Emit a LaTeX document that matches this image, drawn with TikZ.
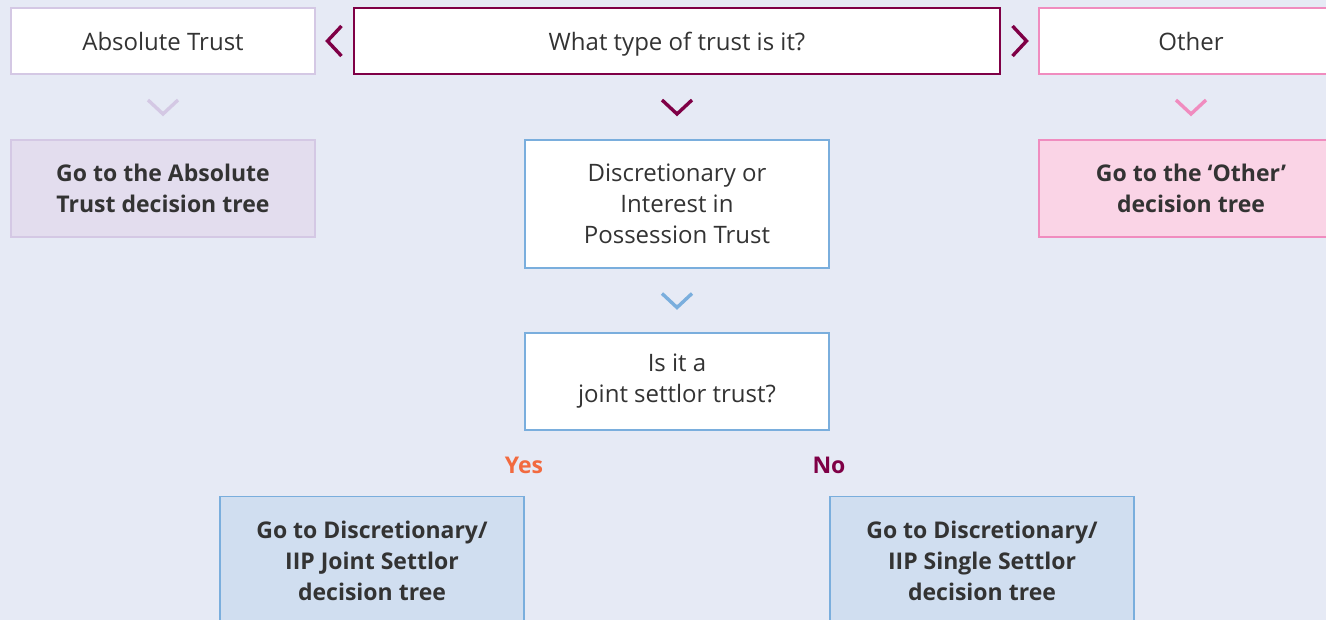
\documentclass[tikz,border=0pt]{standalone}
\usepackage{fontspec}
\setmainfont{Open Sans}
\usetikzlibrary{calc}
\definecolor{bg}{HTML}{E6EAF5}
\definecolor{txt}{HTML}{333333}
\definecolor{magenta}{HTML}{7F0046}
\definecolor{lilac}{HTML}{D4C8E4}
\definecolor{lilacfill}{HTML}{E3DDEE}
\definecolor{pinkline}{HTML}{F08CBF}
\definecolor{pinkfill}{HTML}{FAD4E6}
\definecolor{blueline}{HTML}{7AAEDD}
\definecolor{bluefill}{HTML}{D0DEF0}
\definecolor{yescol}{HTML}{F26A3F}
\tikzset{
  box/.style={draw, line width=1.2pt, fill=white, minimum width=304pt, align=center, text=txt, font=\fontsize{24}{31}\selectfont, inner sep=0pt},
  gobox/.style={box, font=\fontsize{23}{31}\selectfont\bfseries},
  gotext/.style={text=txt, font=\fontsize{23}{31}\selectfont\bfseries, align=center, anchor=north},
  chev/.style={line width=3.4pt, line cap=butt, line join=miter},
  lbl/.style={font=\fontsize{23}{25}\selectfont\bfseries},
  oneline/.style={text height=20pt, text depth=0pt}
}
\begin{document}
\begin{tikzpicture}[x=1pt,y=-1pt]
\fill[bg] (0,0) rectangle (1326,620);
\useasboundingbox (0,0) rectangle (1326,620);
\begin{scope}
\clip (0,0) rectangle (1326,620);
% top row
\node[box, oneline, draw=lilac, minimum height=66pt] (abs) at (163,41) {Absolute Trust};
\node[box, oneline, draw=magenta, minimum width=646pt, minimum height=66pt] (q) at (677,41) {What type of trust is it?};
\node[box, oneline, draw=pinkline, minimum height=66pt] (oth) at (1191,41) {Other};
% second row
\node[gobox, draw=lilac, fill=lilacfill, minimum height=97pt] (goabs) at (163,188.5) {Go to the Absolute\\Trust decision tree};
\node[box, draw=blueline, minimum height=128pt] (disc) at (677,204) {Discretionary or\\Interest in\\Possession Trust};
\node[gobox, draw=pinkline, fill=pinkfill, minimum height=97pt] (gooth) at (1191,188.5) {Go to the ‘Other’\\decision tree};
% third
\node[box, draw=blueline, minimum height=97pt] (joint) at (677,381.5) {Is it a\\joint settlor trust?};
\node[lbl, text=yescol] (yes) at (524,465) {Yes};
\node[lbl, text=magenta] (no) at (829,465) {No};
% bottom
\node[box, draw=blueline, fill=bluefill, minimum height=140pt, anchor=north] (gojoint) at (372,496) {};
\node[box, draw=blueline, fill=bluefill, minimum height=140pt, anchor=north] (gosingle) at (982,496) {};
\node[gotext] (tj) at (gojoint.north) [yshift=-21pt] {Go to Discretionary/\\IIP Joint Settlor\\decision tree};
\node[gotext] (ts) at (gosingle.north) [yshift=-21pt] {Go to Discretionary/\\IIP Single Settlor\\decision tree};
\end{scope}
% chevrons
\coordinate (cl) at ($(abs.east)!0.5!(q.west)$);
\coordinate (cr) at ($(q.east)!0.5!(oth.west)$);
\draw[chev, magenta] ($(cl)+(7,-15)$) -- ($(cl)+(-7,0)$) -- ($(cl)+(7,15)$);
\draw[chev, magenta] ($(cr)+(-7,-15)$) -- ($(cr)+(7,0)$) -- ($(cr)+(-7,15)$);
\coordinate (c1) at ($(abs.south)!0.5!(goabs.north)$);
\coordinate (c2) at ($(q.south)!0.5!(disc.north)$);
\coordinate (c3) at ($(oth.south)!0.5!(gooth.north)$);
\coordinate (c4) at ($(disc.south)!0.5!(joint.north)$);
\draw[chev, lilac] ($(c1)+(-15,-7)$) -- ($(c1)+(0,7)$) -- ($(c1)+(15,-7)$);
\draw[chev, magenta] ($(c2)+(-15,-7)$) -- ($(c2)+(0,7)$) -- ($(c2)+(15,-7)$);
\draw[chev, pinkline] ($(c3)+(-15,-7)$) -- ($(c3)+(0,7)$) -- ($(c3)+(15,-7)$);
\draw[chev, blueline] ($(c4)+(-15,-7)$) -- ($(c4)+(0,7)$) -- ($(c4)+(15,-7)$);
\end{tikzpicture}
\end{document}
